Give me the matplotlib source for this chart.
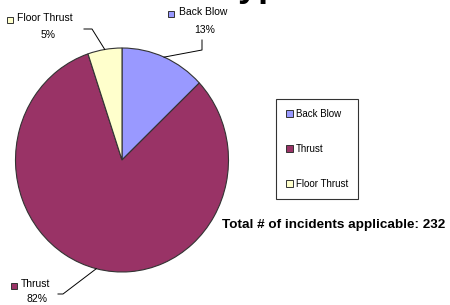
import numpy as np
import matplotlib.pyplot as plt
from matplotlib.patches import Patch
from matplotlib.lines import Line2D

plt.rcParams['font.family'] = ['Liberation Sans', 'DejaVu Sans']

categories = ['Back Blow', 'Thrust', 'Floor Thrust']
counts = [30, 190, 12]
colors = ['#9999FF', '#993366', '#FFFFCC']
title = 'Incident Type'
total_note = 'Total # of incidents applicable: 232'

W, H = 450, 305
fig = plt.figure(figsize=(W / 100, H / 100), dpi=100)

def px(x, y):
    return x / W, 1 - y / H

# pie centre and radii in pixels (slightly taller than wide, like the original)
cx, cy, rx, ry = 122, 160, 106.5, 112
ax = fig.add_axes([(cx - rx) / W, (H - cy - ry) / H, 2 * rx / W, 2 * ry / H])
wedges, _ = ax.pie(counts, colors=colors, startangle=90, counterclock=False,
                   wedgeprops=dict(edgecolor='#333333', linewidth=0.8))
ax.set_aspect('auto')
ax.set_xlim(-1, 1)
ax.set_ylim(-1, 1)

# title (cut off at the top of the picture, only descenders show)
fig.text(*px(300, -3.5), title, ha='right', va='baseline', fontsize=26,
         fontweight='bold')

# outside labels: (text centre, marker centre, percent centre, leader path)
pct = [round(100 * c / sum(counts)) for c in counts]
layout = {
    'Back Blow': ((203, 12), (171, 14), (205, 30), [(202, 50), (202, 40)]),
    'Thrust': ((36, 284), (14, 286), (37, 299), [(63, 294), (58, 294)]),
    'Floor Thrust': ((45, 18), (10, 20), (48, 35), [(92, 29), (84, 29)]),
}

for w, name, p, col in zip(wedges, categories, pct, colors):
    tpos, mpos, ppos, path = layout[name]
    mid = np.deg2rad((w.theta1 + w.theta2) / 2)
    ex, ey = cx + rx * np.cos(mid), cy - ry * np.sin(mid)
    xs, ys = zip(*[px(*q) for q in [(ex, ey)] + path])
    fig.add_artist(Line2D(xs, ys, color='black', lw=0.7))
    fig.text(*px(*tpos), name, ha='center', va='center', fontsize=7.5)
    mx, my = px(*mpos)
    fig.add_artist(Line2D([mx], [my], marker='s', markersize=4,
                          markerfacecolor=col, markeredgecolor='#333333',
                          markeredgewidth=0.7, linestyle='none'))
    fig.text(*px(*ppos), f'{p}%', ha='center', va='center', fontsize=7.5)

# legend
handles = [Patch(facecolor=c, edgecolor='#333333', linewidth=0.7) for c in colors]
leg = fig.legend(handles, categories, loc='upper left',
                 bbox_to_anchor=px(276, 99), fontsize=7,
                 frameon=True, fancybox=False, edgecolor='black',
                 handlelength=0.75, handleheight=0.75, handletextpad=0.3,
                 labelspacing=2.6, borderpad=1.0, borderaxespad=0)
leg.get_frame().set_linewidth(0.8)

fig.text(*px(334, 225), total_note, ha='center', va='center', fontsize=9.7,
         fontweight='bold')

fig.savefig('out.png', dpi=100)
